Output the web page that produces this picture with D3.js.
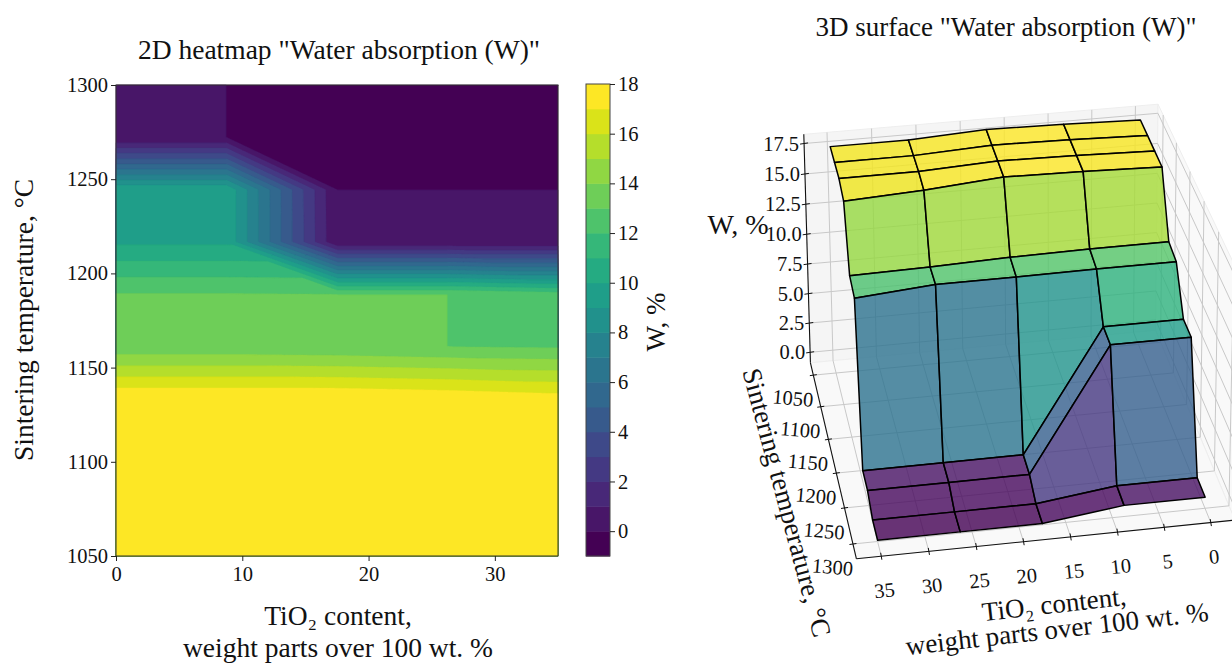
<!DOCTYPE html><html><head><meta charset="utf-8"><script src="https://cdn.jsdelivr.net/npm/d3@7"></script>
<style>html,body{margin:0;background:#fff}svg{display:block}text{font-family:"Liberation Serif",serif;fill:#111}</style></head><body><svg id="c" width="1232" height="664"></svg><script>
const tioGrid=[0,8.75,17.5,26.25,35];
const tempGrid=[1050,1077.8,1105.6,1133.3,1161.1,1188.9,1216.7,1244.4,1272.2,1300];
const w1050=[18,18.2,18.3,18,18],w1078=[18,18.2,18.3,18,18],w1106=[18,18.2,18.3,18,18];
const w1133=[18,18.2,18.3,17.8,17.5],w1161=[13.3,13.3,13.2,13,12.9],w1189=[13.05,13.05,13,13,12.5];
const w1217=[9.83,9.83,0.05,0.05,0.05],w1244=[9.83,9.83,0,0,0],w1272=[0,0,-0.8,-0.8,-0.8],w1300=[0,0,-0.8,-0.8,-0.8];
const W=[w1050,w1078,w1106,w1133,w1161,w1189,w1217,w1244,w1272,w1300];
const levels=d3.range(-1,19);
const xTicks2d=[0,10,20,30],yTicks2d=[1050,1100,1150,1200,1250,1300],cbarTicks=d3.range(0,19,2);
const xTicks3d=[0,5,10,15,20,25,30,35],yTicks3d=[1050,1100,1150,1200,1250,1300],zTicks3d=[0,2.5,5,7.5,10,12.5,15,17.5];
// camera: homogeneous 3x4 projection for normalised (x/35,(T-1050)/250,W/18)
const cam=[-0.312717,-0.0274936,-0.0255971,1.13849,0.0241750,0.124377,-0.216792,0.333944,-0.0120155,-0.0781456,-0.0241258];
function project(x,y,z){const X=x/35,Y=(y-1050)/250,Z=z/18,h=cam[8]*X+cam[9]*Y+cam[10]*Z+1;return [1000*(cam[0]*X+cam[1]*Y+cam[2]*Z+cam[3])/h,1000*(cam[4]*X+cam[5]*Y+cam[6]*Z+cam[7])/h];}
const svg=d3.select('#c');
const T=(sel,x,y,s,size,opt={})=>sel.append('text').attr('x',x).attr('y',y).attr('text-anchor',opt.a||'middle').attr('font-size',size).attr('transform',opt.r!=null?`rotate(${opt.r} ${x} ${y})`:null).text(s);
const xS=d3.scaleLinear([0,35],[116,558]),yS=d3.scaleLinear([1050,1300],[556,85]);
function interp(x,y){let i=Math.max(0,Math.min(3,d3.bisectRight(tioGrid,x)-1)),j=Math.max(0,Math.min(8,d3.bisectRight(tempGrid,y)-1));
const u=(x-tioGrid[i])/(tioGrid[i+1]-tioGrid[i]),v=(y-tempGrid[j])/(tempGrid[j+1]-tempGrid[j]);const cl=z=>Math.min(18,z);const a=cl(W[j][i]),b=cl(W[j][i+1]),d=cl(W[j+1][i]),e=cl(W[j+1][i+1]);
return u+v<=1?a+(b-a)*u+(d-a)*v:e+(d-e)*(1-u)+(b-e)*(1-v);}
const nx=884,ny=942,vals=new Float64Array(nx*ny);
for(let j=0;j<ny;j++)for(let i=0;i<nx;i++)vals[j*nx+i]=interp((i+.5)/nx*35,1050+(j+.5)/ny*250);
const bandColor=k=>d3.interpolateViridis((k+1)/18);
const gridPath=d3.geoPath(d3.geoTransform({point(x,y){this.stream.point(xS(x/nx*35),yS(1050+y/ny*250));}}));
const g=svg.append('g');
d3.contours().size([nx,ny]).thresholds(levels.slice(0,-1))(vals).forEach(c=>g.append('path').attr('d',gridPath(c)).attr('fill',bandColor(c.value)).attr('stroke',bandColor(c.value)).attr('stroke-width',.4));
g.append('rect').attr('x',116).attr('y',85).attr('width',442).attr('height',471).attr('fill','none').attr('stroke','#333');
const ax=(s)=>{s.attr('font-family',null).attr('font-size',null);s.selectAll('text').attr('font-size',20.5).style('fill','#111');s.select('.domain').remove();s.selectAll('line').attr('stroke','#222')};
svg.append('g').attr('transform','translate(0,556)').call(d3.axisBottom(xS).tickValues(xTicks2d).tickSize(5).tickPadding(5)).call(ax);
svg.append('g').attr('transform','translate(116,0)').call(d3.axisLeft(yS).tickValues(yTicks2d).tickFormat(d3.format('d')).tickSize(5).tickPadding(3)).call(ax).selectAll('text').attr('dy','.32em');
const cS=d3.scaleLinear([-1,18],[556,84]);
levels.slice(0,-1).forEach(k=>svg.append('rect').attr('x',586).attr('width',24).attr('y',cS(k+1)).attr('height',cS(k)-cS(k+1)+.5).attr('fill',bandColor(k)));
svg.append('rect').attr('x',586).attr('y',84).attr('width',24).attr('height',472).attr('fill','none').attr('stroke','#444');
svg.append('g').attr('transform','translate(610,0)').call(d3.axisRight(cS).tickValues(cbarTicks).tickSize(5).tickPadding(3)).call(ax).selectAll('text').attr('dy','.32em');
T(svg,339,59,'2D heatmap "Water absorption (W)"',27.5);
T(svg,338,625,'TiO₂ content,',27.5);T(svg,338,657,'weight parts over 100 wt. %',27.5);
T(svg,33,320,'Sintering temperature, °C',27.5,{r:-90});
T(svg,665,322,'W, %',27,{r:-90});
const xL=[-2.6,37.6],yL=[1030,1320],zL=[-0.9,18.25];
const line=d3.line();const s3=svg.append('g');
const P=project;
const poly=(pts,attrs)=>{const p=s3.append('path').attr('d',line(pts)+'Z');Object.entries(attrs).forEach(([k,v])=>p.attr(k,v));return p};
poly([P(xL[0],yL[0],zL[0]),P(xL[1],yL[0],zL[0]),P(xL[1],yL[0],zL[1]),P(xL[0],yL[0],zL[1])],{fill:'#f5f5f5',stroke:'#eee'});
poly([P(xL[0],yL[0],zL[0]),P(xL[0],yL[1],zL[0]),P(xL[0],yL[1],zL[1]),P(xL[0],yL[0],zL[1])],{fill:'#f9f9f9',stroke:'#eee'});
poly([P(xL[0],yL[0],zL[0]),P(xL[1],yL[0],zL[0]),P(xL[1],yL[1],zL[0]),P(xL[0],yL[1],zL[0])],{fill:'#f9f9f9',stroke:'#eee'});
const gl=(a,b)=>s3.append('path').attr('d',line([a,b])).attr('stroke','#c8c8c8').attr('stroke-width',1).attr('fill','none');
xTicks3d.forEach(x=>{gl(P(x,yL[1],zL[0]),P(x,yL[0],zL[0]));gl(P(x,yL[0],zL[0]),P(x,yL[0],zL[1]));});
yTicks3d.forEach(y=>{gl(P(xL[1],y,zL[0]),P(xL[0],y,zL[0]));gl(P(xL[0],y,zL[0]),P(xL[0],y,zL[1]));});
zTicks3d.forEach(z=>{gl(P(xL[1],yL[0],z),P(xL[0],yL[0],z));gl(P(xL[0],yL[0],z),P(xL[0],yL[1],z));});
const al=(a,b)=>s3.append('path').attr('d',line([a,b])).attr('stroke','#111').attr('stroke-width',1.1).attr('fill','none');
al(P(xL[1],yL[1],zL[0]),P(xL[0],yL[1],zL[0]));al(P(xL[1],yL[0],zL[0]),P(xL[1],yL[1],zL[0]));al(P(xL[1],yL[0],zL[0]),P(xL[1],yL[0],zL[1]));
const tk=(p,dx,dy)=>s3.append('path').attr('d',line([[p[0]-dx,p[1]-dy],[p[0]+dx,p[1]+dy]])).attr('stroke','#111');
xTicks3d.forEach(x=>{const p=P(x,yL[1],zL[0]);tk(p,.6,3.5);T(s3,p[0]+4,p[1]+41,x,20.5,{r:-6});});
yTicks3d.forEach(y=>{const p=P(xL[1],y,zL[0]);tk(p,3.5,-.5);T(s3,p[0]-21,p[1]+30,y,20.5,{r:5});});
zTicks3d.forEach(z=>{const p=P(xL[1],yL[0],z);tk(p,4,-.6);T(s3,p[0]-5,p[1]+7,z.toFixed(1),20.5,{a:'end'});});
const vmin=d3.min(W.flat()),vmax=d3.max(W.flat()),cn=d3.scaleLinear([vmin,vmax],[0,1]);
for(let r=0;r<9;r++)for(let c=4;c>0;c--){const q=[[c,r],[c-1,r],[c-1,r+1],[c,r+1]];const av=d3.mean(q,([a,b])=>W[b][a]);
poly(q.map(([a,b])=>P(tioGrid[a],tempGrid[b],W[b][a])),{fill:d3.interpolateViridis(cn(av)),'fill-opacity':.8,stroke:'#000','stroke-width':1.5,'stroke-linejoin':'round'});}
T(svg,1006,36,'3D surface "Water absorption (W)"',27);
T(svg,738,234,'W, %',28);
T(svg,778,505,'Sintering temperature, °C',27,{r:75});
T(svg,1055,613,'TiO₂ content,',27,{r:-6.5});T(svg,1058,638,'weight parts over 100 wt. %',27,{r:-6.5});
</script></body></html>
